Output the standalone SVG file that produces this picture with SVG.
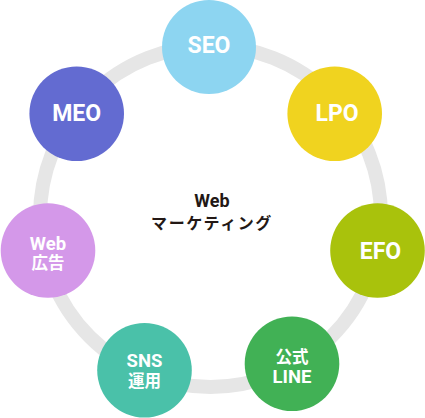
<svg xmlns="http://www.w3.org/2000/svg" width="425" height="418" viewBox="0 0 425 418">
<style>
.lbl{font-family:Roboto,"Noto Sans CJK JP",sans-serif;font-weight:bold;fill:#fff;text-anchor:middle;dominant-baseline:central}
.big{font-size:23px}
.lat{font-size:18.5px}
.jp{font-size:16.5px}
.ctr{font-family:Roboto,"Noto Sans CJK JP",sans-serif;font-weight:bold;fill:#231815;text-anchor:middle;dominant-baseline:central}
</style>
<g id="connectors">
<circle cx="210.5" cy="216.5" r="170.5" fill="none" stroke="#e6e6e6" stroke-width="14"/>
</g>
<g id="center">
<text class="ctr" x="212" y="200" font-size="18">Web</text>
<text class="ctr" x="212" y="223" font-size="16" letter-spacing="1.6">マーケティング</text>
</g>
<g id="seo"><circle cx="209" cy="47" r="47" fill="#8dd5f1"/><text class="lbl big" x="209" y="45">SEO</text></g>
<g id="lpo"><circle cx="334.7" cy="113.7" r="47.3" fill="#f0d31f"/><text class="lbl big" x="337" y="113">LPO</text></g>
<g id="efo"><circle cx="377.5" cy="250.5" r="47.3" fill="#a9c20c"/><text class="lbl big" x="380.5" y="251">EFO</text></g>
<g id="line"><circle cx="292" cy="363.7" r="47.3" fill="#41b155"/><text class="lbl jp" x="292" y="357">公式</text><text class="lbl lat" x="292" y="377">LINE</text></g>
<g id="sns"><circle cx="144.5" cy="370.3" r="47.3" fill="#4ac1a9"/><text class="lbl lat" x="144.5" y="361">SNS</text><text class="lbl jp" x="144.5" y="381">運用</text></g>
<g id="webad"><circle cx="48" cy="250.5" r="47.3" fill="#d498e9"/><text class="lbl lat" x="48" y="243.5">Web</text><text class="lbl jp" x="48" y="263">広告</text></g>
<g id="meo"><circle cx="76.7" cy="113.7" r="47.3" fill="#636bd1"/><text class="lbl big" x="76.7" y="113">MEO</text></g>
</svg>
